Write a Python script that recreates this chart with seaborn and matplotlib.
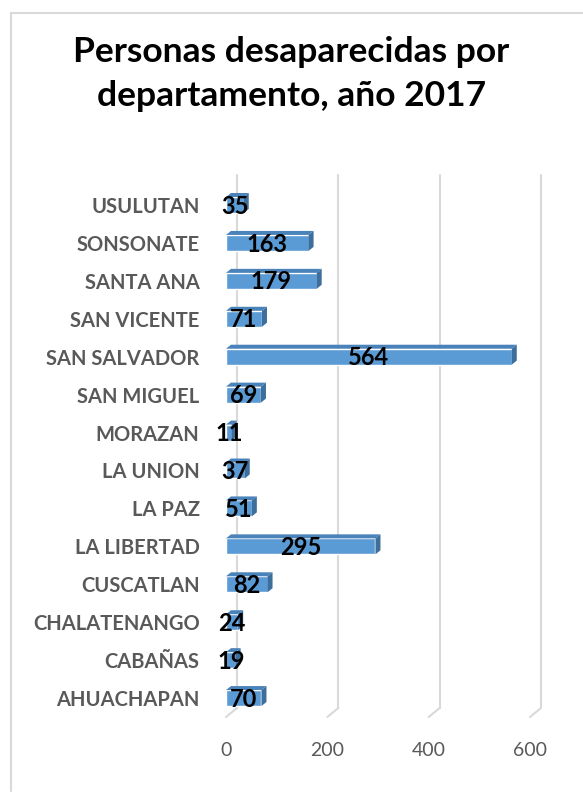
import matplotlib
matplotlib.use("Agg")
import matplotlib.pyplot as plt
import seaborn as sns
import pandas as pd
from matplotlib.patches import Polygon
from matplotlib.lines import Line2D

# datos
departamentos = ["USULUTAN", "SONSONATE", "SANTA ANA", "SAN VICENTE", "SAN SALVADOR",
                 "SAN MIGUEL", "MORAZAN", "LA UNION", "LA PAZ", "LA LIBERTAD",
                 "CUSCATLAN", "CHALATENANGO", "CABAÑAS", "AHUACHAPAN"]
personas = [35, 163, 179, 71, 564, 69, 11, 37, 51, 295, 82, 24, 19, 70]
ticks_x = [0, 200, 400, 600]

df = pd.DataFrame({"Departamento": departamentos, "Personas": personas})

sns.set_style("white")
plt.rcParams["font.family"] = ["Lato", "DejaVu Sans"]

fig = plt.figure(figsize=(5.83, 7.93), dpi=100)
ax = fig.add_axes([226 / 583, 76 / 793, 304 / 583, 531 / 793])

sns.barplot(data=df, y="Departamento", x="Personas", color="#5B9BD5",
            width=0.42, saturation=1, ax=ax, zorder=3)

ax.set_xlim(0, 600)
ax.set_ylim(13.5, -0.5)

# profundidad 3D (en unidades de datos)
px_x = 600 / 304
px_y = 14 / 531
dx, dy = 5 * px_x, 4 * px_y

# líneas de cuadrícula en el plano trasero
fdx, fdy = 11 * px_x, 9 * px_y
for t in ticks_x:
    ax.add_line(Line2D([t + fdx, t + fdx], [13.5 - fdy, -0.5 - 0.3], color="#D9D9D9",
                       lw=1.5, clip_on=False, zorder=1))
    ax.add_line(Line2D([t, t + fdx], [13.5, 13.5 - fdy], color="#D9D9D9",
                       lw=1.5, clip_on=False, zorder=1))

for p in ax.patches:
    x0, y0 = p.get_x(), p.get_y()
    w, h = p.get_width(), p.get_height()
    top = Polygon([[x0, y0], [x0 + dx, y0 - dy], [x0 + w + dx, y0 - dy], [x0 + w, y0]],
                  closed=True, facecolor="#4A82BA", edgecolor="none", zorder=3)
    side = Polygon([[x0 + w, y0], [x0 + w + dx, y0 - dy], [x0 + w + dx, y0 + h - dy], [x0 + w, y0 + h]],
                   closed=True, facecolor="#3E6E9C", edgecolor="none", zorder=3)
    ax.add_patch(top)
    ax.add_patch(side)

for i, v in enumerate(personas):
    ax.text(v / 2, i + 0.03, str(v), ha="center", va="center", fontsize=17,
            fontweight="bold", color="black", zorder=5)

ax.set_xticks(ticks_x)
ax.set_xticklabels([str(t) for t in ticks_x], fontsize=14, color="#595959")
ax.tick_params(axis="x", length=0, pad=18)
ax.tick_params(axis="y", length=0, pad=19)
for lab in ax.get_yticklabels():
    lab.set_fontweight("bold")
    lab.set_fontsize(14.5)
    lab.set_color("#595959")
ax.set_xlabel("")
ax.set_ylabel("")
sns.despine(ax=ax, left=True, bottom=True)

fig.text(0.5, 1 - 36 / 793, "Personas desaparecidas por\ndepartamento, año 2017",
         ha="center", va="top", fontsize=25.5, fontweight="bold", color="black",
         linespacing=1.45)

# borde del gráfico
fig.add_artist(Line2D([11 / 583, 11 / 583], [0.003, 1 - 13 / 793], color="#D9D9D9", lw=1.5))
fig.add_artist(Line2D([11 / 583, 1], [1 - 13 / 793, 1 - 13 / 793], color="#D9D9D9", lw=1.5))

fig.savefig("out.png", dpi=100)
